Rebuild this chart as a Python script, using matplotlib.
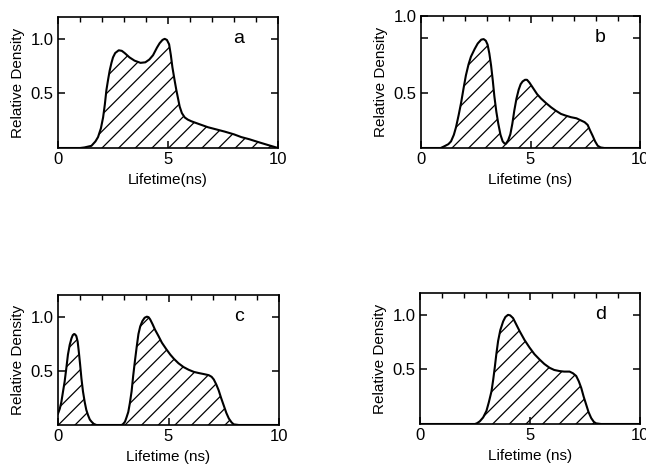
import matplotlib
matplotlib.use("Agg")
import matplotlib.pyplot as plt
from matplotlib.ticker import MultipleLocator

plt.rcParams['font.family'] = ['Liberation Sans', 'DejaVu Sans']
plt.rcParams['hatch.color'] = 'black'
plt.rcParams['hatch.linewidth'] = 0.9

# ---- data ----
x_a = [0, 1.0, 1.2, 1.52, 1.7, 1.82, 1.95, 2.05, 2.13, 2.2, 2.28, 2.35, 2.43, 2.5, 2.6, 2.76, 2.9,
       3.03, 3.25, 3.48, 3.75, 3.97, 4.15, 4.32, 4.5, 4.62, 4.75, 4.85, 4.95, 5.05, 5.13, 5.2,
       5.3, 5.38, 5.46, 5.53, 5.63, 5.76, 5.9, 6.06, 6.4, 6.82, 7.2, 7.58, 8.0, 8.33, 8.7, 9.09,
       9.5, 10]
y_a = [0, 0, 0.005, 0.02, 0.06, 0.10, 0.18, 0.28, 0.40, 0.53, 0.63, 0.71, 0.78, 0.83, 0.87, 0.895,
       0.89, 0.87, 0.83, 0.80, 0.78, 0.785, 0.81, 0.85, 0.92, 0.96, 0.99, 1.0, 0.99, 0.95, 0.85,
       0.74, 0.62, 0.53, 0.45, 0.38, 0.32, 0.28, 0.26, 0.245, 0.22, 0.19, 0.17, 0.15, 0.125,
       0.10, 0.08, 0.055, 0.03, 0.0]

x_b = [0, 0.9, 1.07, 1.25, 1.37, 1.5, 1.6, 1.72, 1.83, 1.95, 2.05, 2.17, 2.28, 2.45, 2.59, 2.75,
       2.86, 2.96, 3.04, 3.12, 3.2, 3.28, 3.35, 3.44, 3.53, 3.63, 3.73, 3.82, 3.88, 3.98, 4.08,
       4.17, 4.26, 4.36, 4.46, 4.55, 4.64, 4.75, 4.84, 4.95, 5.1, 5.3, 5.48, 5.7, 5.94, 6.15,
       6.39, 6.6, 6.85, 7.1, 7.31, 7.47, 7.61, 7.72, 7.84, 7.95, 8.07, 8.2, 8.37, 10]
y_b = [0, 0, 0.016, 0.035, 0.06, 0.12, 0.19, 0.30, 0.41, 0.55, 0.66, 0.76, 0.83, 0.90, 0.95, 0.985,
       0.99, 0.975, 0.94, 0.86, 0.75, 0.61, 0.47, 0.33, 0.22, 0.12, 0.06, 0.04, 0.04, 0.07, 0.125,
       0.22, 0.34, 0.45, 0.53, 0.58, 0.605, 0.62, 0.62, 0.595, 0.55, 0.49, 0.45, 0.41, 0.37, 0.34,
       0.31, 0.295, 0.28, 0.27, 0.25, 0.235, 0.21, 0.16, 0.11, 0.06, 0.02, 0.005, 0, 0]

x_c = [0, 0.08, 0.15, 0.22, 0.30, 0.38, 0.45, 0.53, 0.61, 0.67, 0.73, 0.78, 0.83, 0.89, 0.94, 1.0,
       1.06, 1.13, 1.21, 1.28, 1.36, 1.44, 1.52, 1.62, 1.74, 2.88, 2.95, 3.03, 3.1, 3.18, 3.25,
       3.33, 3.4, 3.48, 3.56, 3.64, 3.72, 3.82, 3.92, 4.02, 4.1, 4.17, 4.28, 4.39, 4.55, 4.7, 4.9,
       5.08, 5.25, 5.45, 5.68, 5.91, 6.15, 6.36, 6.6, 6.82, 6.95, 7.05, 7.16, 7.27, 7.38, 7.5,
       7.62, 7.73, 7.85, 7.95, 8.18, 10]
y_c = [0.105, 0.15, 0.21, 0.30, 0.40, 0.53, 0.65, 0.74, 0.80, 0.83, 0.84, 0.835, 0.82, 0.77, 0.68,
       0.56, 0.43, 0.31, 0.21, 0.14, 0.09, 0.05, 0.03, 0.01, 0, 0, 0.01, 0.03, 0.07, 0.12, 0.20,
       0.31, 0.45, 0.59, 0.72, 0.84, 0.91, 0.96, 0.99, 1.0, 0.995, 0.975, 0.93, 0.88, 0.82, 0.76,
       0.70, 0.65, 0.61, 0.57, 0.535, 0.51, 0.49, 0.48, 0.47, 0.46, 0.445, 0.42, 0.375, 0.32,
       0.25, 0.18, 0.11, 0.06, 0.025, 0.006, 0, 0]

x_d = [0, 2.5, 2.6, 2.72, 2.87, 3.02, 3.13, 3.25, 3.33, 3.4, 3.47, 3.55, 3.65, 3.78, 3.88, 4.0,
       4.1, 4.23, 4.38, 4.53, 4.75, 4.98, 5.2, 5.44, 5.65, 5.89, 6.1, 6.34, 6.55, 6.8, 6.95, 7.1,
       7.22, 7.33, 7.44, 7.55, 7.66, 7.78, 7.9, 8.0, 8.23, 10]
y_d = [0, 0, 0.008, 0.025, 0.06, 0.12, 0.20, 0.30, 0.41, 0.52, 0.64, 0.76, 0.86, 0.94, 0.98, 1.0,
       0.995, 0.97, 0.91, 0.85, 0.77, 0.70, 0.64, 0.59, 0.55, 0.515, 0.495, 0.485, 0.48, 0.48,
       0.465, 0.44, 0.39, 0.33, 0.25, 0.18, 0.11, 0.055, 0.02, 0.006, 0, 0]

panel_letters = ['a', 'b', 'c', 'd']
xlabels = ['Lifetime(ns)', 'Lifetime (ns)', 'Lifetime (ns)', 'Lifetime (ns)']
x_ticks = [0, 5, 10]
x_tick_labels = ['0', '5', '10']
y_ticks = [0.5, 1.0]
y_tick_labels = ['0.5', '1.0']

series = [(x_a, y_a), (x_b, y_b), (x_c, y_c), (x_d, y_d)]

W, H = 646, 468
rects = [
    (58, 17, 220, 131),
    (421, 16, 219, 132),
    (58, 295, 221, 130),
    (420, 293, 220, 131),
]

fig = plt.figure(figsize=(W / 100, H / 100), dpi=100)

for i, ((xs, ys), (l, t, w, h)) in enumerate(zip(series, rects)):
    ax = fig.add_axes([l / W, (H - t - h) / H, w / W, h / H])
    ax.fill_between(xs, ys, 0, facecolor='none', edgecolor='black', linewidth=0, hatch='//')
    ax.plot(xs, ys, color='black', linewidth=1.5, solid_joinstyle='round')
    ax.set_xlim(0, 10)
    ax.set_ylim(0, 1.2)
    ax.set_xticks(x_ticks)
    ax.set_xticklabels(x_tick_labels)
    if i == 1:
        ax.set_yticks(y_ticks + [1.2])
        ax.set_yticklabels(['0.5', '', '1.0'])
    else:
        ax.set_yticks(y_ticks)
        ax.set_yticklabels(y_tick_labels)
    ax.xaxis.set_minor_locator(MultipleLocator(1))
    ax.tick_params(which='major', direction='in', length=5, width=1.1,
                   top=True, right=True, labelsize=12, pad=3)
    ax.tick_params(which='minor', direction='in', length=3.5, width=1.0,
                   top=True, bottom=False, left=False, right=False)
    for s in ax.spines.values():
        s.set_linewidth(1.2)
    ax.set_xlabel(xlabels[i], fontsize=11, labelpad=4)
    ax.set_ylabel('Relative Density', fontsize=11, labelpad=4)
    ax.text(8.2, 1.0, panel_letters[i], fontsize=14, ha='center', va='center')

fig.savefig('out.png', dpi=100)
